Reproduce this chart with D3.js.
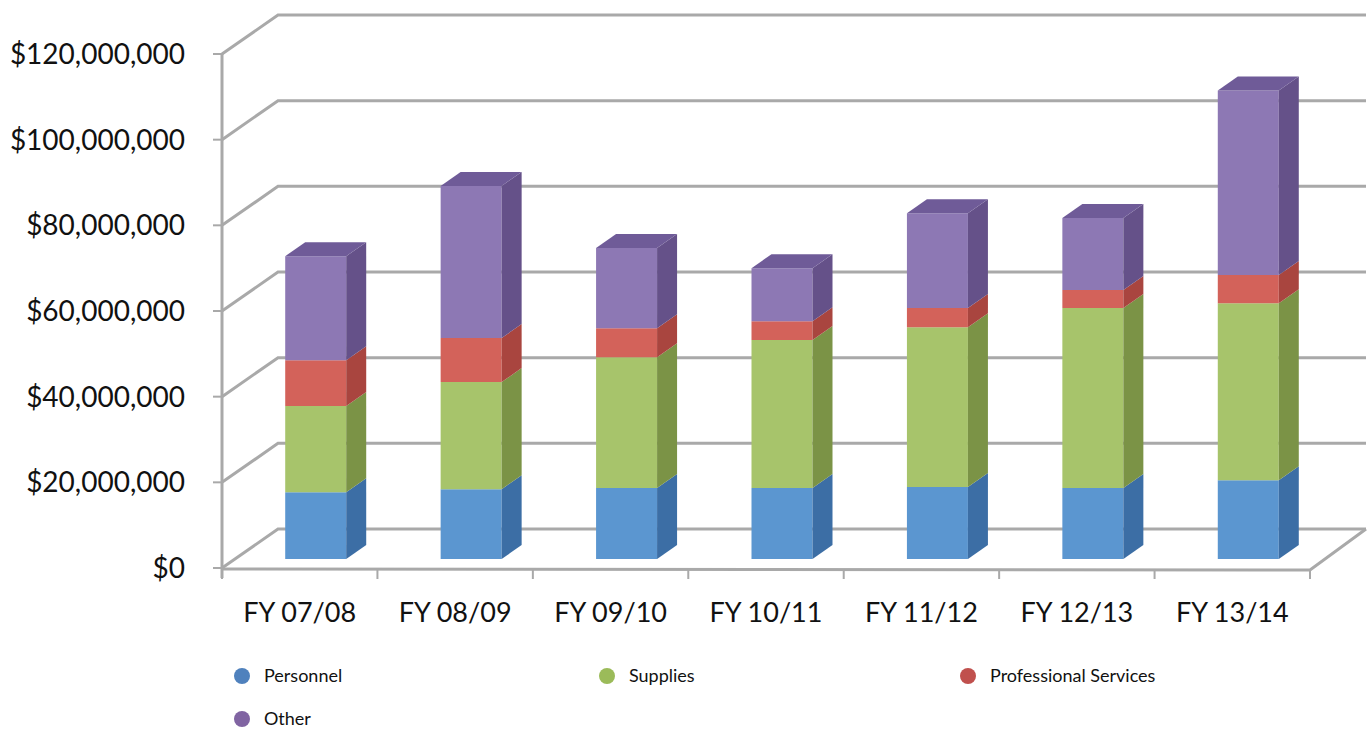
<!DOCTYPE html>
<html>
<head>
<meta charset="utf-8">
<script src="https://cdn.jsdelivr.net/npm/d3@7"></script>
<style>
  html, body { margin: 0; padding: 0; background: #fff; }
  svg { display: block; }
  .tick-label { font-family: Lato, "Open Sans", sans-serif; font-size: 28px; fill: #111; }
  .cat-label { font-family: Lato, "Open Sans", sans-serif; font-size: 27px; fill: #111; }
  .legend-label { font-family: Lato, "Open Sans", sans-serif; font-size: 18px; fill: #111; }
</style>
</head>
<body>
<div id="chart"></div>
<script>
// ---- data (in $ millions) ----
const years = ["FY 07/08", "FY 08/09", "FY 09/10", "FY 10/11", "FY 11/12", "FY 12/13", "FY 13/14"];
const series = ["Personnel", "Supplies", "Professional Services", "Other"];
const personnel = [15.6, 16.3, 16.6, 16.6, 16.8, 16.6, 18.4];
const supplies = [20.1, 25.0, 30.5, 34.5, 37.3, 42.0, 41.3];
const profServices = [10.7, 10.3, 6.8, 4.4, 4.5, 4.2, 6.6];
const other = [24.3, 35.5, 18.7, 12.4, 22.1, 16.8, 43.1];
const yTicks = [0, 20, 40, 60, 80, 100, 120];

const values = [personnel, supplies, profServices, other];

// ---- layout ----
const width = 1372, height = 732;
const plot = { left: 222, right: 1310, top: 54, bottom: 568 };
const wall = { dx: 56, dy: -39 };          // depth of the 3d box
const barShift = { dx: 16, dy: -9 };       // bar front face inside the box
const barDepth = { dx: 20, dy: -14 };
const barWidth = 61;

const faceColors = {
  "Personnel": { front: "#5b96d0", side: "#3c6ea5", top: "#4a7fb8" },
  "Supplies": { front: "#a7c46b", side: "#7b9346", top: "#8dab55" },
  "Professional Services": { front: "#d3625a", side: "#a9453f", top: "#b9524b" },
  "Other": { front: "#8d78b4", side: "#655189", top: "#6f5b98" }
};
const legendColors = ["#4f81bd", "#9bbb59", "#c0504d", "#8064a2"];

const svg = d3.select("#chart").append("svg")
  .attr("width", width)
  .attr("height", height);

const x = d3.scaleBand()
  .domain(years)
  .range([plot.left, plot.right])
  .paddingInner(0)
  .paddingOuter(0);

const y = d3.scaleLinear()
  .domain([0, 120])
  .range([plot.bottom, plot.top]);

const gridColor = "#a9a9a9";

// ---- walls: left diagonals + back gridlines ----
const grid = svg.append("g");
yTicks.forEach(v => {
  const y0 = y(v);
  grid.append("polyline")
    .attr("points", [
      [plot.left, y0],
      [plot.left + wall.dx, y0 + wall.dy],
      [plot.right + wall.dx, y0 + wall.dy]
    ].map(p => p.join(",")).join(" "))
    .attr("fill", "none")
    .attr("stroke", gridColor)
    .attr("stroke-width", 3);
});

// floor front + right edge
grid.append("polyline")
  .attr("points", [
    [plot.left, plot.bottom + 1],
    [plot.right, plot.bottom + 2],
    [plot.right + wall.dx, plot.bottom + wall.dy]
  ].map(p => p.join(",")).join(" "))
  .attr("fill", "none")
  .attr("stroke", gridColor)
  .attr("stroke-width", 3);

// vertical axis line
grid.append("line")
  .attr("x1", plot.left).attr("x2", plot.left)
  .attr("y1", plot.top).attr("y2", plot.bottom + 10)
  .attr("stroke", gridColor)
  .attr("stroke-width", 3);

// y ticks + labels
const fmt = v => "$" + d3.format(",")(v * 1e6);
yTicks.forEach(v => {
  grid.append("line")
    .attr("x1", plot.left - 9).attr("x2", plot.left)
    .attr("y1", y(v)).attr("y2", y(v))
    .attr("stroke", gridColor).attr("stroke-width", 2);
  svg.append("text")
    .attr("class", "tick-label")
    .attr("x", 185)
    .attr("y", y(v))
    .attr("dy", "0.36em")
    .attr("text-anchor", "end")
    .text(fmt(v));
});

// x ticks (category boundaries) + labels
const bounds = years.map(d => x(d)).concat([plot.right]);
bounds.forEach(bx => {
  grid.append("line")
    .attr("x1", bx).attr("x2", bx)
    .attr("y1", plot.bottom + 1).attr("y2", plot.bottom + 11)
    .attr("stroke", gridColor).attr("stroke-width", 2);
});
years.forEach(d => {
  svg.append("text")
    .attr("class", "cat-label")
    .attr("x", x(d) + x.bandwidth() / 2)
    .attr("y", 612)
    .attr("dy", "0.36em")
    .attr("text-anchor", "middle")
    .text(d);
});

// ---- stacked 3d bars ----
const table = years.map((yr, i) => {
  const row = { year: yr };
  series.forEach((s, k) => { row[s] = values[k][i]; });
  return row;
});
const stacked = d3.stack().keys(series)(table);

const pts = arr => arr.map(p => p.join(",")).join(" ");
const bars = svg.append("g");

years.forEach((yr, i) => {
  const x0 = x(yr) + x.bandwidth() / 2 - barWidth / 2 + barShift.dx;
  const x1 = x0 + barWidth;
  const g = bars.append("g");
  stacked.forEach((layer, k) => {
    const s = layer.key;
    const [v0, v1] = layer[i];
    const yb = y(v0) + barShift.dy;
    const yt = y(v1) + barShift.dy;
    const c = faceColors[s];
    // front face
    g.append("polygon")
      .attr("points", pts([[x0, yb], [x1, yb], [x1, yt], [x0, yt]]))
      .attr("fill", c.front);
    // side face
    g.append("polygon")
      .attr("points", pts([
        [x1, yb], [x1 + barDepth.dx, yb + barDepth.dy],
        [x1 + barDepth.dx, yt + barDepth.dy], [x1, yt]
      ]))
      .attr("fill", c.side);
    // top face on the last segment
    if (k === stacked.length - 1) {
      g.append("polygon")
        .attr("points", pts([
          [x0, yt], [x1, yt],
          [x1 + barDepth.dx, yt + barDepth.dy], [x0 + barDepth.dx, yt + barDepth.dy]
        ]))
        .attr("fill", c.top);
    }
  });
});

// ---- legend ----
const legendPos = [[242, 676], [607, 676], [968, 676], [242, 719]];
const legend = svg.append("g");
series.forEach((s, k) => {
  const [lx, ly] = legendPos[k];
  legend.append("circle")
    .attr("cx", lx).attr("cy", ly).attr("r", 8)
    .attr("fill", legendColors[k]);
  legend.append("text")
    .attr("class", "legend-label")
    .attr("x", lx + 22)
    .attr("y", ly)
    .attr("dy", "0.35em")
    .text(s);
});
</script>
</body>
</html>
